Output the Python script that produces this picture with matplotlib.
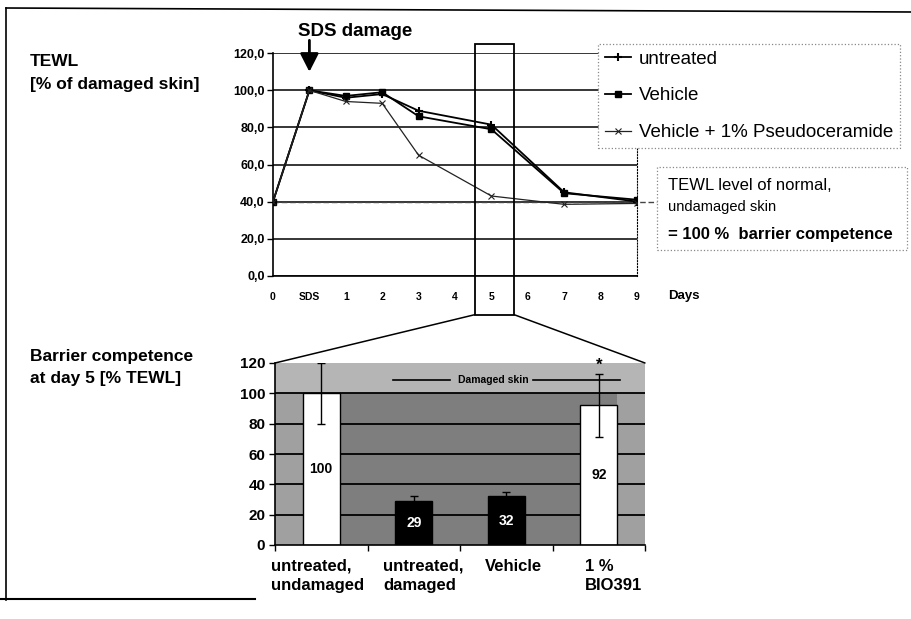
import numpy as np
import matplotlib
matplotlib.use('Agg')
import matplotlib.pyplot as plt
from matplotlib.patches import Rectangle, ConnectionPatch
from matplotlib.lines import Line2D

plt.rcParams['font.family'] = ['Liberation Sans', 'DejaVu Sans']

# ---------------- data ----------------
day_labels = ['0', 'SDS', '1', '2', '3', '4', '5', '6', '7', '8', '9']
untreated = [40, 100, 96, 98, 89, np.nan, 81.5, np.nan, 45, np.nan, 40]
vehicle = [40, 100, 97, 99, 86, np.nan, 79, np.nan, 44.5, np.nan, 41]
pseudoceramide = [40, 100, 94, 93, 65, np.nan, 43, np.nan, 38.5, np.nan, 39]
normal_level = 39.5
series_names = ['untreated', 'Vehicle', 'Vehicle + 1% Pseudoceramide']

bar_categories = ['untreated,\nundamaged', 'untreated,\ndamaged', 'Vehicle', '1 %\nBIO391']
bar_values = [100, 29, 32, 92]
bar_errors = [20, 3, 3, 21]

W, H = 912, 619
fig = plt.figure(figsize=(W / 100, H / 100), dpi=100)
fig.patch.set_facecolor('white')


def fx(px):
    return px / W


def fy(py):
    return 1 - py / H


# ---------------- top chart ----------------
ax = fig.add_axes([fx(273), fy(275.7), (637 - 273) / W, (275.7 - 53.3) / H])
x = np.arange(len(day_labels))
styles = [
    dict(marker='+', ms=6, mew=1.5, lw=1.3, color='black'),
    dict(marker='s', ms=5, lw=1.3, color='black'),
    dict(marker='x', ms=5, mew=0.8, lw=0.9, color='#222222'),
]
handles = []
for vals, name, st in zip([untreated, vehicle, pseudoceramide], series_names, styles):
    v = np.array(vals, dtype=float)
    m = ~np.isnan(v)
    h, = ax.plot(x[m], v[m], label=name, zorder=3, **st)
    handles.append(h)

ax.axhline(normal_level, xmin=0, xmax=(657 - 273) / (637 - 273), clip_on=False,
           ls=(0, (4, 2)), lw=1.0, color='#444444', zorder=2)

ax.set_xlim(0, len(day_labels) - 1)
ax.set_ylim(0, 120)
ax.set_yticks(range(0, 121, 20))
ax.set_yticklabels([f"{v:.1f}".replace('.', ',') for v in range(0, 121, 20)],
                   fontsize=9, fontweight='bold')
ax.set_xticks(x)
ax.set_xticklabels(day_labels, fontsize=7.5, fontweight='bold')
ax.tick_params(axis='x', length=0, pad=12)
ax.tick_params(axis='y', length=4, width=1, pad=2)
ax.yaxis.grid(True, color='black', lw=1.1)
ax.set_axisbelow(True)
ax.spines['top'].set_visible(False)
ax.spines['right'].set_linestyle(':')
ax.spines['right'].set_linewidth(0.8)
ax.spines['left'].set_linewidth(1.2)
ax.spines['bottom'].set_linewidth(1.2)
ax.set_facecolor('none')

ax.text(1.085, -0.09, 'Days', transform=ax.transAxes, ha='left', va='center',
        fontsize=9.5, fontweight='bold')

# SDS arrow
ax.annotate('', xy=(1, 110), xytext=(1, 127), annotation_clip=False,
            arrowprops=dict(arrowstyle='-|>,head_width=0.28,head_length=0.55',
                            mutation_scale=20, lw=2, color='black',
                            shrinkA=0, shrinkB=0))
ax.text(2.25, 131.5, 'SDS damage', ha='center', va='center', fontsize=13.5,
        fontweight='bold', clip_on=False)

# legend
leg = ax.legend(handles=handles, loc='upper left', bbox_to_anchor=(fx(598), fy(44)),
                bbox_transform=fig.transFigure, fontsize=13.5, frameon=True,
                fancybox=False, edgecolor='#888888', framealpha=1,
                handlelength=1.4, labelspacing=1.05, borderaxespad=0,
                borderpad=0.35, handletextpad=0.45)
leg.get_frame().set_linestyle(':')
leg.get_frame().set_linewidth(0.9)

# highlight rectangle around day 5
hl = Rectangle((5.55, -21), 1.07, 146, fill=False, lw=1.3, ec='black',
               clip_on=False, zorder=5)
ax.add_patch(hl)

# annotation box
fig.patches.append(Rectangle((fx(657), fy(250)), (907 - 657) / W, (250 - 167) / H,
                             transform=fig.transFigure, fc='white', ec='#888888',
                             ls=':', lw=0.9, zorder=1))
fig.text(fx(668), fy(185), 'TEWL level of normal,', fontsize=12, va='center')
fig.text(fx(668), fy(207), 'undamaged skin', fontsize=10.5, va='center')
fig.text(fx(668), fy(235), '= 100 %  barrier competence', fontsize=12,
         fontweight='bold', va='center')

# ---------------- bottom chart ----------------
bx = fig.add_axes([fx(275), fy(545), (645 - 275) / W, (545 - 363) / H])
n = len(bar_values)
bw = 0.4
bx.set_xlim(-0.5, n - 0.5)
bx.set_ylim(0, 120)

bx.add_patch(Rectangle((-0.5, 100), n, 20, color='#b5b5b5', zorder=0.2, lw=0))
bx.add_patch(Rectangle((-0.5, 0), n, 100, color='#a0a0a0', zorder=0.2, lw=0))
bx.add_patch(Rectangle((bw / 2, 0), n - 1, 100, color='#7e7e7e', zorder=0.3, lw=0))

for yv in range(20, 101, 20):
    bx.axhline(yv, color='black', lw=1.3, zorder=0.5)

colors = ['white', 'black', 'black', 'white']
bx.bar(range(n), bar_values, width=bw, color=colors, edgecolor='black', lw=1, zorder=2)
bx.errorbar(range(n), bar_values, yerr=bar_errors, fmt='none', ecolor='black',
            elinewidth=1, capsize=3, capthick=1, zorder=3)
bx.text(n - 1, bar_values[-1] + bar_errors[-1] + 0.5, '*', ha='center', va='bottom',
        fontsize=12, fontweight='bold', zorder=4)
for i, v in enumerate(bar_values):
    bx.text(i, v / 2, str(v), ha='center', va='center', fontsize=10,
            fontweight='bold', color='white' if colors[i] == 'black' else 'black',
            zorder=4)

# Damaged skin band label
bx.text(1.86, 109, 'Damaged skin', ha='center', va='center', fontsize=7.5,
        fontweight='bold', zorder=4)
bx.plot([0.78, 1.39], [109, 109], color='black', lw=1.2, zorder=3)
bx.plot([2.29, 3.23], [109, 109], color='black', lw=1.2, zorder=3)

bx.set_yticks(range(0, 121, 20))
bx.set_yticklabels([str(v) for v in range(0, 121, 20)], fontsize=11, fontweight='bold')
bx.set_xticks(np.arange(-0.5, n, 1.0))
bx.set_xticklabels([])
bx.tick_params(axis='y', length=4, width=1, pad=3)
bx.tick_params(axis='x', length=4, width=1)
bx.spines['top'].set_visible(False)
bx.spines['right'].set_visible(False)
bx.spines['left'].set_linewidth(1.2)
bx.spines['bottom'].set_linewidth(1.2)

label_x = [-0.543, 0.668, 1.77, 2.85]
for lx, lab in zip(label_x, bar_categories):
    bx.text(lx, -0.075, lab, transform=bx.get_xaxis_transform(), ha='left', va='top',
            fontsize=12, fontweight='bold', linespacing=1.35)

# zoom connectors
for xa, xb in [(5.55, -0.5), (6.62, n - 0.5)]:
    cp = ConnectionPatch(xyA=(xa, -21), coordsA=ax.transData, xyB=(xb, 120),
                         coordsB=bx.transData, color='black', lw=1.1)
    fig.add_artist(cp)

# left side labels
fig.text(fx(30), fy(62), 'TEWL', fontsize=12.5, fontweight='bold', va='center')
fig.text(fx(30), fy(85), '[% of damaged skin]', fontsize=12.5, fontweight='bold',
         va='center')
fig.text(fx(30), fy(356), 'Barrier competence', fontsize=12.5, fontweight='bold',
         va='center')
fig.text(fx(30), fy(378), 'at day 5 [% TEWL]', fontsize=12.5, fontweight='bold',
         va='center')

# outer frame (scan border)
fig.add_artist(Line2D([fx(6), fx(912)], [fy(8), fy(12)], transform=fig.transFigure,
                      color='black', lw=1.2))
fig.add_artist(Line2D([fx(6), fx(6)], [fy(8), fy(600)], transform=fig.transFigure,
                      color='black', lw=1.2))
fig.add_artist(Line2D([fx(0), fx(255)], [fy(599), fy(599)], transform=fig.transFigure,
                      color='black', lw=1.5))

fig.savefig('out.png', dpi=100, facecolor='white')
